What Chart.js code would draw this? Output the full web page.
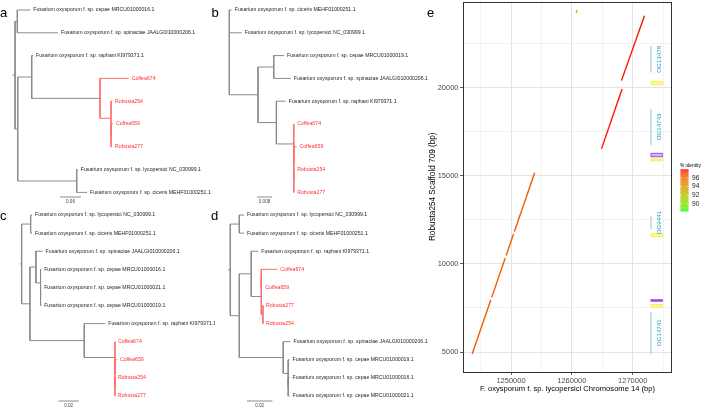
<!DOCTYPE html>
<html><head><meta charset="utf-8">
<script src="https://cdn.jsdelivr.net/npm/chart.js@4/dist/chart.umd.min.js"></script>
<style>
html,body{margin:0;padding:0;background:#fff;}
#wrap{position:relative;width:703px;height:407px;overflow:hidden;background:#fff;}
canvas{position:absolute;}
</style></head><body><div id="wrap">
<canvas id="ta"></canvas><canvas id="tb"></canvas><canvas id="tc"></canvas><canvas id="td"></canvas><canvas id="ce"></canvas>
</div>
<script>
// ---------------- DATA ----------------
const F = 'Fusarium oxysporum f. sp. ';
// tree node: [leaf label | null, branch length, children]
const treeA = [null, 0.0066, [
  [null, 0.0066, [[F + 'cepae MRCU01000016.1', 0.0371], [F + 'spinaciae JAALGI010000206.1', 0.1163]]],
  [null, 0.0077, [
    [null, 0.0400, [
      [F + 'raphani KI979371.1', 0.0037],
      [null, 0.1951, [
        ['Coffea674', 0.0820],
        [null, 0.0314, [
          ['Robusta254', 0.0029],
          [null, 0, [['Coffea659', 0.0057], ['Robusta277', 0.0029]]]
        ]]
      ]]
    ]],
    [null, 0.1686, [[F + 'lycopersici NC_030999.1', 0.0029], [F + 'ciceris MEHF01000251.1', 0.0294]]]
  ]]
]];
const treeB = [null, 0, [
  [F + 'ciceris MEHF01000251.1', 0.0013],
  [F + 'lycopersici NC_030999.1', 0.0066],
  [null, 0.0153, [
    [null, 0.0084, [[F + 'cepae MRCU01000019.1', 0.0055], [F + 'spinaciae JAALGI010000206.1', 0.0091]]],
    [null, 0.0098, [
      [F + 'raphani KI979371.1', 0.0050],
      [null, 0.0093, [
        ['Coffea674', 0.0002],
        [null, 0, [['Coffea659', 0.0014], [null, 0, [['Robusta254', 0.0002], ['Robusta277', 0.0002]]]]]
      ]]
    ]]
  ]]
]];
const treeC = [null, 0.0016, [
  [null, 0.0087, [[F + 'lycopersici NC_030999.1', 0.0013], [F + 'ciceris MEHF01000251.1', 0.0013]]],
  [null, 0.0080, [
    [null, 0.0058, [
      [F + 'spinaciae JAALGI010000206.1', 0.0065],
      [null, 0.0045, [[F + 'cepae MRCU01000016.1', 0.0006], [null, 0, [[F + 'cepae MRCU01000021.1', 0.0006], [F + 'cepae MRCU01000019.1', 0.0006]]]]]
    ]],
    [null, 0.0526, [
      [F + 'raphani KI979371.1', 0.0203],
      [null, 0.0297, [['Coffea674', 0], [null, 0, [['Coffea659', 0.0019], [null, 0, [['Robusta254', 0], ['Robusta277', 0]]]]]]]
    ]]
  ]]
]];
const treeD = [null, 0.0018, [
  [null, 0.0071, [[F + 'lycopersici NC_030999.1', 0.0037], [F + 'ciceris MEHF01000251.1', 0.0037]]],
  [null, 0.0071, [
    [null, 0.0094, [
      [F + 'raphani KI979371.1', 0.0055],
      [null, 0.0079, [
        [null, 0, [['Coffea674', 0.0126], ['Coffea659', 0.0008]]],
        [null, 0.0013, [['Robusta277', 0], ['Robusta254', 0]]]
      ]]
    ]],
    [null, 0.0346, [
      [F + 'spinaciae JAALGI010000206.1', 0.0057],
      [null, 0.0039, [[F + 'cepae MRCU01000019.1', 0.0011], [null, 0, [[F + 'cepae MRCU01000016.1', 0.0011], [F + 'cepae MRCU01000021.1', 0.0011]]]]]
    ]]
  ]]
]];
const scaleBarLength = [0.06, 0.008, 0.02, 0.02];
const scaleBarLabel = ['0.06', '0.008', '0.02', '0.02'];

// panel e: alignments (reference = x, query = y)
const alnRefStart = [1243608, 1246821, 1249201, 1250561, 1264869, 1268155, 1260700];
const alnRefEnd   = [1246671, 1249051, 1250411, 1253886, 1268254, 1271934, 1260860];
const alnQryStart = [4887, 8100, 10480, 11840, 16525, 20397, 24240];
const alnQryEnd   = [7950, 10330, 11690, 15165, 19927, 24082, 24400];
const alnIdentity = [96.5, 96.5, 96.5, 96.5, 97.9, 97.9, 91.0];
const identityRange = [88.3, 98.0];
const identityTicks = [96, 94, 92, 90];
// annotation track on the query scaffold
const ogNames = ['OG13478', 'OG14743', 'OG9441', 'OG14741'];
const ogStart = [20850, 16752, 11990, 4904];
const ogEnd   = [22364, 18793, 12692, 7285];
const repeatKind  = ['yellow', 'purple', 'yellow', 'yellow', 'purple', 'yellow'];
const repeatStart = [20136, 16055, 15828, 11519, 7868, 7528];
const repeatEnd   = [20363, 16298, 15975, 11746, 7982, 7721];
// axis ticks (major = labelled)
const xGridValues = [1245000, 1250000, 1255000, 1260000, 1265000, 1270000, 1275000];
const xTickValues = [1250000, 1260000, 1270000];
const yGridValues = [5000, 7500, 10000, 12500, 15000, 17500, 20000, 22500];
const yTickValues = [5000, 10000, 15000, 20000];

// ---------------- LAYOUT / STYLE ----------------
const FONT = "'Liberation Sans', Arial, sans-serif";
Chart.defaults.font.family = FONT;
const treePanels = [
  {id: 'ta', tree: treeA, letter: 'a', lx: 0, ly: 17, left: 0, top: 0, w: 215, h: 204, ox: 12.7, k: 350, y0: 10, sp: 22.8, barX: 60, barY: 197},
  {id: 'tb', tree: treeB, letter: 'b', lx: 211.5, ly: 17, left: 207, top: 0, w: 232, h: 204, ox: 229.3, k: 1875, y0: 10, sp: 22.8, barX: 257, barY: 197},
  {id: 'tc', tree: treeC, letter: 'c', lx: 0, ly: 220, left: 0, top: 204, w: 215, h: 203, ox: 20, k: 1033, y0: 215, sp: 18.1, barX: 58.3, barY: 401},
  {id: 'td', tree: treeD, letter: 'd', lx: 211, ly: 220, left: 207, top: 204, w: 232, h: 203, ox: 228, k: 1270, y0: 215, sp: 18.1, barX: 247, barY: 401}
];

function layoutTree(root) {
  const leaves = [], gray = [], red = [];
  let idx = 0;
  const isCoffee = n => /^(Coffea|Robusta)/.test(n);
  function walk(node, px) {
    const [label, bl, kids] = node;
    const x = px + bl;
    if (!kids) {
      const y = idx++;
      const r = isCoffee(label);
      leaves.push({label, x, y, red: r});
      return {x, y, allRed: r};
    }
    const res = kids.map(k => walk(k, x));
    const y = (res[0].y + res[res.length - 1].y) / 2;
    const allRed = res.every(r => r.allRed);
    const target = allRed ? red : gray;
    target.push([x, res[0].y, x, res[res.length - 1].y]);
    res.forEach(r => target.push([x, r.y, r.x, r.y]));
    return {x, y, allRed};
  }
  const r = walk(root, 0);
  if (root[1] > 0) gray.push([0, r.y, r.x, r.y]);
  return {leaves, gray, red};
}
function segPoints(segs) {
  const a = [];
  segs.forEach(s => a.push({x: s[0], y: s[1]}, {x: s[2], y: s[3]}, {x: null, y: null}));
  return a;
}

treePanels.forEach((p, i) => {
  const L = layoutTree(p.tree);
  const cv = document.getElementById(p.id);
  cv.width = p.w; cv.height = p.h;
  cv.style.left = p.left + 'px'; cv.style.top = p.top + 'px';
  const xmin = (p.left - p.ox) / p.k, xmax = (p.left + p.w - p.ox) / p.k;
  const ymin = (p.top - p.y0) / p.sp, ymax = (p.top + p.h - p.y0) / p.sp;
  const bx = (p.barX - p.ox) / p.k, by = (p.barY - p.y0) / p.sp;
  const lineDs = (data, color) => ({data, showLine: true, spanGaps: false, borderColor: color, borderWidth: 1, pointRadius: 0, pointHoverRadius: 0});
  new Chart(cv, {
    type: 'scatter',
    data: {datasets: [
      lineDs(segPoints(L.gray), '#8a8a8a'),
      lineDs(segPoints(L.red), '#ff7070'),
      lineDs([{x: bx, y: by}, {x: bx + scaleBarLength[i], y: by}], '#8a8a8a')
    ]},
    options: {
      responsive: false, animation: false, events: [],
      layout: {padding: 0},
      plugins: {legend: {display: false}, tooltip: {enabled: false}},
      scales: {
        x: {type: 'linear', display: false, min: xmin, max: xmax},
        y: {type: 'linear', display: false, min: ymin, max: ymax, reverse: true}
      }
    },
    plugins: [{
      id: 'treeText',
      afterDatasetsDraw(chart) {
        const ctx = chart.ctx, xs = chart.scales.x, ys = chart.scales.y;
        ctx.save();
        ctx.font = '5.2px ' + FONT;
        ctx.textBaseline = 'middle'; ctx.textAlign = 'left';
        L.leaves.forEach(lf => {
          ctx.fillStyle = lf.red ? '#ff2f2f' : '#1e1e1e';
          ctx.fillText(lf.label, xs.getPixelForValue(lf.x) + 3, ys.getPixelForValue(lf.y));
        });
        ctx.font = '4.6px ' + FONT;
        ctx.textAlign = 'center'; ctx.textBaseline = 'top'; ctx.fillStyle = '#444';
        ctx.fillText(scaleBarLabel[i], xs.getPixelForValue(bx + scaleBarLength[i] / 2), ys.getPixelForValue(by) + 2);
        ctx.font = '13px ' + FONT;
        ctx.textAlign = 'left'; ctx.textBaseline = 'alphabetic'; ctx.fillStyle = '#000';
        ctx.fillText(p.letter, p.lx - p.left, p.ly - p.top);
        ctx.restore();
      }
    }]
  });
});

// ---------------- PANEL e ----------------
function labToRgb(L, a, b) {
  const fy = (L + 16) / 116, fx = fy + a / 500, fz = fy - b / 200, d = 6 / 29;
  const f = t => t > d ? t * t * t : 3 * d * d * (t - 4 / 29);
  const X = 0.95047 * f(fx), Y = f(fy), Z = 1.08883 * f(fz);
  const r = 3.2406 * X - 1.5372 * Y - 0.4986 * Z;
  const g = -0.9689 * X + 1.8758 * Y + 0.0415 * Z;
  const bb = 0.0557 * X - 0.2040 * Y + 1.0570 * Z;
  const gam = c => { c = Math.max(0, Math.min(1, c)); return c <= 0.0031308 ? 12.92 * c : 1.055 * Math.pow(c, 1 / 2.4) - 0.055; };
  return 'rgb(' + Math.round(gam(r) * 255) + ',' + Math.round(gam(g) * 255) + ',' + Math.round(gam(bb) * 255) + ')';
}
const LAB_LOW = [87.735, -86.183, 83.179], LAB_HIGH = [53.241, 80.092, 67.203];
function identityColor(v) {
  const t = Math.max(0, Math.min(1, (v - identityRange[0]) / (identityRange[1] - identityRange[0])));
  return labToRgb(LAB_LOW[0] + (LAB_HIGH[0] - LAB_LOW[0]) * t, LAB_LOW[1] + (LAB_HIGH[1] - LAB_LOW[1]) * t, LAB_LOW[2] + (LAB_HIGH[2] - LAB_LOW[2]) * t);
}

const TRACK_LINE_X = 1273005, TRACK_TEXT_X = 1274450, TRACK_BOX_X0 = 1272950, TRACK_BOX_X1 = 1274950;
const eDatasets = [];
alnRefStart.forEach((s, i) => eDatasets.push({
  data: [{x: s, y: alnQryStart[i]}, {x: alnRefEnd[i], y: alnQryEnd[i]}],
  showLine: true, borderColor: identityColor(alnIdentity[i]), borderWidth: 1.4, pointRadius: 0, pointHoverRadius: 0
}));
ogNames.forEach((n, i) => eDatasets.push({
  data: [{x: TRACK_LINE_X, y: ogStart[i]}, {x: TRACK_LINE_X, y: ogEnd[i]}],
  showLine: true, borderColor: '#8ac6d6', borderWidth: 1, pointRadius: 0, pointHoverRadius: 0
}));

const isMajorX = v => xTickValues.includes(v);
const isMajorY = v => yTickValues.includes(v);
const ce = document.getElementById('ce');
ce.width = 283; ce.height = 407; ce.style.left = '420px'; ce.style.top = '0px';

new Chart(ce, {
  type: 'scatter',
  data: {datasets: eDatasets},
  options: {
    responsive: false, animation: false, events: [],
    layout: {padding: {top: 1, right: 31, bottom: 0, left: 0}},
    plugins: {legend: {display: false}, tooltip: {enabled: false}},
    scales: {
      x: {
        type: 'linear', min: 1242105, max: 1276460,
        afterBuildTicks: s => { s.ticks = xGridValues.map(v => ({value: v})); },
        ticks: {autoSkip: false, maxRotation: 0, minRotation: 0, padding: 1, color: '#4d4d4d', font: {size: 7.5},
          callback: v => isMajorX(v) ? String(v) : []},
        grid: {color: c => isMajorX(c.tick.value) ? '#e4e4e4' : '#eeeeee', lineWidth: c => isMajorX(c.tick.value) ? 1 : 0.7,
          tickColor: c => isMajorX(c.tick.value) ? '#333' : 'rgba(0,0,0,0)', tickLength: 3, tickWidth: 0.8},
        border: {display: false},
        title: {display: true, text: 'F. oxysporum f. sp. lycopersici Chromosome 14 (bp)', color: '#000', font: {size: 7.6}, padding: {top: 0, bottom: 13.5}},
        afterFit: s => { s.height = 35; }
      },
      y: {
        type: 'linear', min: 3866, max: 24887,
        afterBuildTicks: s => { s.ticks = yGridValues.map(v => ({value: v})); },
        ticks: {autoSkip: false, padding: 1.5, color: '#4d4d4d', font: {size: 7.5},
          callback: v => isMajorY(v) ? String(v) : []},
        grid: {color: c => isMajorY(c.tick.value) ? '#e4e4e4' : '#eeeeee', lineWidth: c => isMajorY(c.tick.value) ? 1 : 0.7,
          tickColor: c => isMajorY(c.tick.value) ? '#333' : 'rgba(0,0,0,0)', tickLength: 3, tickWidth: 0.8},
        border: {display: false},
        title: {display: true, text: 'Robusta254 Scaffold 709 (bp)', color: '#000', font: {size: 8.2}, padding: {top: 8, bottom: 0}},
        afterFit: s => { s.width = 43; }
      }
    }
  },
  plugins: [{
    id: 'eDecor',
    afterDatasetsDraw(chart) {
      const ctx = chart.ctx, xs = chart.scales.x, ys = chart.scales.y, ca = chart.chartArea;
      ctx.save();
      // repeat boxes
      const bx0 = xs.getPixelForValue(TRACK_BOX_X0), bx1 = xs.getPixelForValue(TRACK_BOX_X1);
      repeatKind.forEach((k, i) => {
        const y0 = ys.getPixelForValue(repeatEnd[i]), y1 = ys.getPixelForValue(repeatStart[i]);
        const h = y1 - y0;
        if (k === 'yellow') { ctx.fillStyle = '#fbfb9e'; ctx.strokeStyle = '#f3ee55'; }
        else if (h < 3) { ctx.fillStyle = '#a13ff0'; ctx.strokeStyle = '#a13ff0'; }
        else { ctx.fillStyle = '#dcb4f4'; ctx.strokeStyle = '#a346ee'; }
        ctx.lineWidth = 0.9;
        ctx.fillRect(bx0, y0, bx1 - bx0, h);
        ctx.strokeRect(bx0 + 0.45, y0 + 0.45, bx1 - bx0 - 0.9, Math.max(0.1, h - 0.9));
      });
      // OG labels
      ctx.fillStyle = '#2f9dc2';
      ctx.font = '6.2px ' + FONT;
      ctx.textAlign = 'center'; ctx.textBaseline = 'middle';
      ogNames.forEach((n, i) => {
        ctx.save();
        ctx.translate(xs.getPixelForValue(TRACK_TEXT_X), ys.getPixelForValue((ogStart[i] + ogEnd[i]) / 2));
        ctx.rotate(-Math.PI / 2);
        ctx.fillText(n, 0, 0);
        ctx.restore();
      });
      // panel border
      ctx.strokeStyle = '#333'; ctx.lineWidth = 1;
      ctx.strokeRect(Math.round(ca.left) + 0.5, Math.round(ca.top) + 0.5, Math.round(ca.right - ca.left) - 1, Math.round(ca.bottom - ca.top) - 1);
      // legend
      const lgX = 680.5 - 420, lgW = 8, lgTop = 169.3, lgBot = 211;
      const vy = v => lgBot - (v - identityRange[0]) / (identityRange[1] - identityRange[0]) * (lgBot - lgTop);
      for (let y = lgTop; y < lgBot; y += 0.5) {
        const v = identityRange[0] + (lgBot - y) / (lgBot - lgTop) * (identityRange[1] - identityRange[0]);
        ctx.fillStyle = identityColor(v);
        ctx.fillRect(lgX, y, lgW, 0.6);
      }
      ctx.strokeStyle = '#fff'; ctx.lineWidth = 0.6;
      identityTicks.forEach(t => {
        const y = vy(t);
        ctx.beginPath(); ctx.moveTo(lgX, y); ctx.lineTo(lgX + 1.6, y); ctx.moveTo(lgX + lgW - 1.6, y); ctx.lineTo(lgX + lgW, y); ctx.stroke();
      });
      ctx.fillStyle = '#222'; ctx.font = '6.6px ' + FONT; ctx.textAlign = 'left'; ctx.textBaseline = 'middle';
      identityTicks.forEach(t => ctx.fillText(String(t), lgX + lgW + 3.5, vy(t)));
      ctx.font = '4.8px ' + FONT; ctx.textBaseline = 'alphabetic'; ctx.fillStyle = '#000';
      ctx.fillText('% identity', lgX - 0.5, 167);
      // panel letter
      ctx.font = '13px ' + FONT; ctx.fillStyle = '#000';
      ctx.fillText('e', 427 - 420, 17);
      ctx.restore();
    }
  }]
});
</script>
</body></html>
